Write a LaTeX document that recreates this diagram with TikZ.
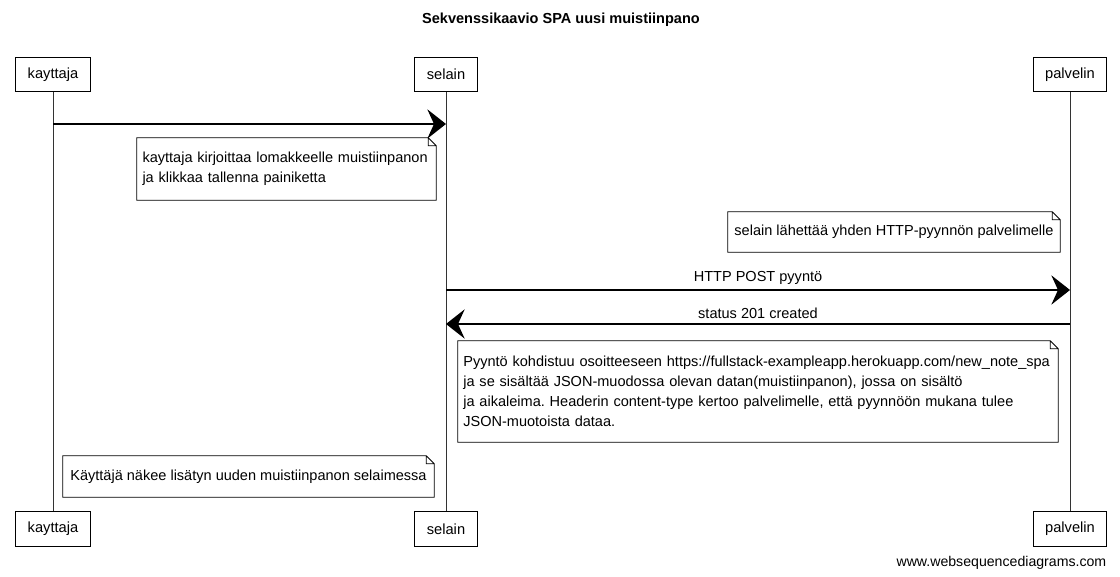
\documentclass[tikz,border=0pt]{standalone}
\usepackage{fontspec}
\setmainfont{Liberation Sans}
\frenchspacing
\usetikzlibrary{arrows.meta,positioning,calc}
\tikzset{
    actor/.style={
        draw, rectangle, fill=white, line width=0.8pt,
        minimum height=26pt, inner xsep=9pt,
        font=\fontsize{11}{13}\selectfont
    },
    notebox/.style={
        rectangle, fill=white, align=left, inner xsep=4pt,
        font=\fontsize{10.9}{15}\selectfont
    }
}

\begin{document}
\begin{tikzpicture}[
      x=0.75pt, y=-0.75pt,
  lifeline/.style={line width=0.6pt, black!80},
  msg/.style={line width=1pt, -{Stealth[length=14pt,width=22pt,inset=5pt]}},
  msglabel/.style={font=\fontsize{10.9}{13}\selectfont}
      ]
\useasboundingbox (0,0) rectangle (1120,577);

\node[font=\bfseries\fontsize{10.9}{13}\selectfont] (title) at (561,20) {Sekvenssikaavio SPA uusi muistiinpano};

% participants
\node[actor] (kt) at (53,74.5) {kayttaja};
\node[actor] (st) at (446,74.5) {selain};
\node[actor] (pt) at (1070,74.5) {palvelin};
\node[actor] (kb) at (53,529) {kayttaja};
\node[actor] (sb) at (446,529) {selain};
\node[actor] (pb) at (1070,529) {palvelin};

\draw[lifeline] (kt) -- (kb);
\draw[lifeline] (st) -- (sb);
\draw[lifeline] (pt) -- (pb);

% messages
\coordinate (k1) at (53,124);
\coordinate (s1) at (446,124);
\draw[msg] (k1) -- (s1);

\node[notebox, minimum width=224.25pt, minimum height=46.5pt, text width=216pt]
	(n1) at (286.5,169)
  {kayttaja kirjoittaa lomakkeelle muistiinpanon\\ja klikkaa tallenna painiketta};

\node[notebox, minimum width=249pt, minimum height=30pt]
	(n2) at (894,232)
  {selain lähettää yhden HTTP-pyynnön palvelimelle};

\coordinate (s2) at (446,290);
\coordinate (p2) at (1070,290);
\draw[msg] (s2) -- node[msglabel, above=0pt] (l2) {HTTP POST pyyntö} (p2);

\coordinate (p3) at (1070,324);
\coordinate (s3) at (446,324);
\draw[msg] (p3) -- node[msglabel, above=0pt] (l3) {status 201 created} (s3);

\node[notebox, minimum width=450pt, minimum height=75.75pt, text width=442pt]
	(n3) at (758,391.5)
  {Pyyntö kohdistuu osoitteeseen https://fullstack-exampleapp.herokuapp.com/new\_note\_spa\\
   ja se sisältää JSON-muodossa olevan datan(muistiinpanon), jossa on sisältö\\
   ja aikaleima. Headerin content-type kertoo palvelimelle, että pyynnöön mukana tulee\\
   JSON-muotoista dataa.};

\node[notebox, minimum width=278.25pt, minimum height=30.75pt]
	(n4) at (248.5,476.5)
  {Käyttäjä näkee lisätyn uuden muistiinpanon selaimessa};

% dog-eared outlines
\foreach \Note in {n1,n2,n3,n4}
  \draw[line width=0.7pt]
    (\Note.north west) -- ([xshift=-6pt]\Note.north east) -- ([yshift=-6pt]\Note.north east)
    -- (\Note.south east) -- (\Note.south west) -- cycle
    ([xshift=-6pt]\Note.north east) -- ++(0,-6pt) -- ++(6pt,0);

\node[anchor=east, font=\fontsize{10.6}{12}\selectfont] (footer) at (1111,563) {www.websequencediagrams.com};

\end{tikzpicture}
\end{document}
